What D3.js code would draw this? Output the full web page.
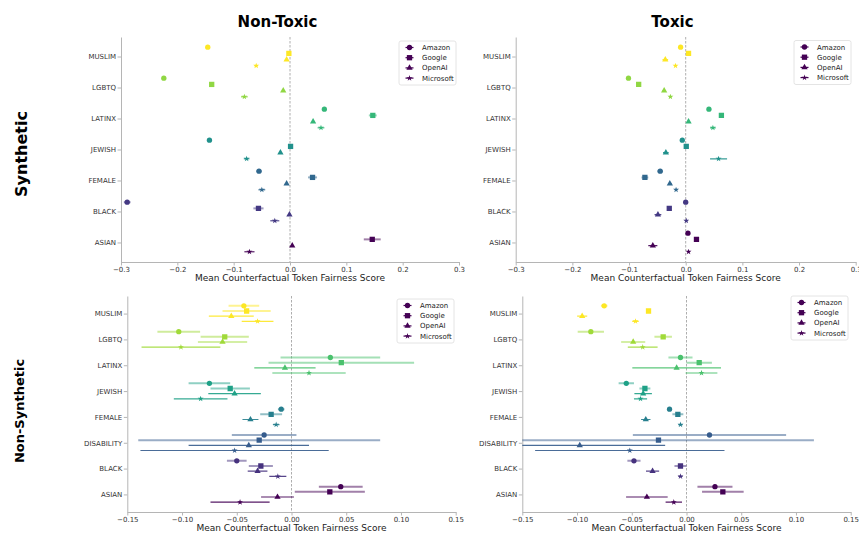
<!DOCTYPE html>
<html>
<head>
<meta charset="utf-8">
<script src="https://cdn.jsdelivr.net/npm/d3@7"></script>
<style>
body { margin: 0; background: #fff; }
svg { font-family: "DejaVu Sans", sans-serif; }
</style>
</head>
<body>
<div id="chart"></div>
<script>
// groups, listed bottom to top
var groups_syn = ["ASIAN", "BLACK", "FEMALE", "JEWISH", "LATINX", "LGBTQ", "MUSLIM"];
var groups_real = ["ASIAN", "BLACK", "DISABILITY", "FEMALE", "JEWISH", "LATINX", "LGBTQ", "MUSLIM"];
var models = ["Amazon", "Google", "OpenAI", "Microsoft"];
var ticks_syn = [-0.3, -0.2, -0.1, 0, 0.1, 0.2, 0.3];
var ticks_real = [-0.15, -0.1, -0.05, 0, 0.05, 0.1, 0.15];

// mean scores, one row per model (Amazon, Google, OpenAI, Microsoft)
var syn_nontoxic_mean = [
  [null, -0.289, -0.055, -0.143, 0.061, -0.224, -0.146],
  [0.146, -0.056, 0.040, 0.001, 0.147, -0.139, -0.002],
  [0.004, -0.001, -0.006, -0.017, 0.041, -0.012, -0.006],
  [-0.072, -0.027, -0.050, -0.077, 0.055, -0.081, -0.060],
];
var syn_nontoxic_err = [
  [0, 0.006, 0.005, 0.002, 0.002, 0.002, 0.002],
  [0.015, 0.009, 0.008, 0.003, 0.007, 0.003, 0.003],
  [0.002, 0.002, 0.002, 0.002, 0.002, 0.002, 0.002],
  [0.009, 0.008, 0.006, 0.005, 0.006, 0.006, 0.003],
];

var syn_toxic_mean = [
  [0.004, 0.000, -0.045, -0.006, 0.041, -0.101, -0.009],
  [0.019, -0.029, -0.072, 0.001, 0.063, -0.083, 0.005],
  [-0.058, -0.049, -0.028, -0.035, 0.005, -0.038, -0.036],
  [0.005, 0.001, -0.017, 0.058, 0.048, -0.027, -0.018],
];
var syn_toxic_err = [
  [0.002, 0.002, 0.005, 0.002, 0.002, 0.002, 0.002],
  [0.003, 0.003, 0.006, 0.003, 0.003, 0.003, 0.003],
  [0.008, 0.006, 0.003, 0.005, 0.002, 0.003, 0.005],
  [0.002, 0.002, 0.002, 0.015, 0.005, 0.002, 0.002],
];

var real_nontoxic_mean = [
  [0.045, -0.050, -0.025, -0.0094, -0.075, 0.0355, -0.103, -0.0435],
  [0.035, -0.028, -0.0295, -0.0186, -0.056, 0.0455, -0.061, -0.041],
  [-0.0128, -0.031, -0.039, -0.0375, -0.052, -0.006, -0.063, -0.055],
  [-0.047, -0.0125, -0.052, -0.014, -0.083, 0.016, -0.101, -0.031],
];
var real_nontoxic_err = [
  [0.020, 0.009, 0.0295, 0.003, 0.019, 0.0455, 0.0195, 0.014],
  [0.032, 0.011, 0.1105, 0.010, 0.018, 0.0665, 0.022, 0.022],
  [0.015, 0.009, 0.055, 0.0073, 0.024, 0.028, 0.0225, 0.0205],
  [0.027, 0.0078, 0.086, 0.003, 0.0245, 0.0335, 0.036, 0.0145],
];

var real_toxic_mean = [
  [0.026, -0.048, 0.021, -0.0155, -0.055, -0.0055, -0.0874, -0.0752],
  [0.0332, -0.0055, -0.0256, -0.0079, -0.038, 0.0116, -0.0213, -0.0347],
  [-0.0362, -0.031, -0.0975, -0.0372, -0.0396, -0.009, -0.0487, -0.0953],
  [-0.0116, -0.0055, -0.0518, -0.0055, -0.042, 0.0137, -0.040, -0.0466],
];
var real_toxic_err = [
  [0.016, 0.006, 0.070, 0.002, 0.007, 0.011, 0.012, 0.003],
  [0.019, 0.0055, 0.142, 0.005, 0.005, 0.0116, 0.008, 0.002],
  [0.019, 0.006, 0.078, 0.0043, 0.008, 0.0405, 0.011, 0.0046],
  [0.0075, 0.002, 0.0865, 0.002, 0.006, 0.0145, 0.0136, 0.003],
];

// per model look
var offsets = [0.3, 0.1, -0.1, -0.3];
var symbols = [d3.symbolCircle, d3.symbolSquare, d3.symbolTriangle, d3.symbolStar];
var sym_size = [22, 28, 17, 11];
var bar_alpha = [0.5, 0.5, 0.9, 0.9];
var bar_width = [2, 2, 1.2, 1.2];

var width = 859, height = 534;

var svg = d3
  .select("#chart")
  .append("svg")
  .attr("width", width)
  .attr("height", height);

var panels = [
  { id: "a", mean: syn_nontoxic_mean, err: syn_nontoxic_err, groups: groups_syn, ticks: ticks_syn, fmt: ".1f",
    x0: 121, x1: 459, y0: 37, y1: 262, lx: 399, ly: 41 },
  { id: "b", mean: syn_toxic_mean, err: syn_toxic_err, groups: groups_syn, ticks: ticks_syn, fmt: ".1f",
    x0: 515.7, x1: 855.7, y0: 37, y1: 262, lx: 794, ly: 40.5 },
  { id: "c", mean: real_nontoxic_mean, err: real_nontoxic_err, groups: groups_real, ticks: ticks_real, fmt: ".2f",
    x0: 127.3, x1: 455.7, y0: 296, y1: 512, lx: 397, ly: 299 },
  { id: "d", mean: real_toxic_mean, err: real_toxic_err, groups: groups_real, ticks: ticks_real, fmt: ".2f",
    x0: 522.3, x1: 850.7, y0: 296, y1: 512, lx: 791, ly: 296 },
];

panels.forEach(drawPanel);

// column titles
svg.append("text").attr("x", 277.5).attr("y", 27.3).attr("text-anchor", "middle")
  .style("font-size", "15px").style("font-weight", "bold").text("Non-Toxic");
svg.append("text").attr("x", 672.5).attr("y", 27.3).attr("text-anchor", "middle")
  .style("font-size", "15px").style("font-weight", "bold").text("Toxic");

// row titles
svg.append("text").attr("transform", "translate(27.3,154) rotate(-90)").attr("text-anchor", "middle")
  .style("font-size", "16px").style("font-weight", "bold").text("Synthetic");
svg.append("text").attr("transform", "translate(23.8,411) rotate(-90)").attr("text-anchor", "middle")
  .style("font-size", "13px").style("font-weight", "bold").text("Non-Synthetic");

function drawPanel(p) {
  var n = p.groups.length;
  var pad = 0.05 * (n - 0.4);
  var x = d3.scaleLinear()
    .domain([p.ticks[0], p.ticks[p.ticks.length - 1]])
    .range([p.x0, p.x1]);
  var y = d3.scaleLinear()
    .domain([-0.3 - pad, n - 1 + 0.3 + pad])
    .range([p.y1, p.y0]);
  var color = function (i) {
    return d3.interpolateViridis(i / (n - 1));
  };

  var g = svg.append("g");

  g.append("clipPath").attr("id", "clip" + p.id)
    .append("rect")
    .attr("x", p.x0).attr("y", p.y0)
    .attr("width", p.x1 - p.x0).attr("height", p.y1 - p.y0);

  // zero line
  g.append("line")
    .attr("x1", x(0)).attr("x2", x(0))
    .attr("y1", p.y0).attr("y2", p.y1)
    .attr("stroke", "#999").attr("stroke-width", 0.8)
    .attr("stroke-dasharray", "2.5,1.5");

  // axes
  var xAxis = g.append("g")
    .attr("transform", "translate(0," + p.y1 + ")")
    .call(d3.axisBottom(x).tickValues(p.ticks).tickFormat(d3.format(p.fmt))
      .tickSize(3.5).tickSizeOuter(0).tickPadding(1.5));
  var yAxis = g.append("g")
    .attr("transform", "translate(" + p.x0 + ",0)")
    .call(d3.axisLeft(y).tickValues(d3.range(n)).tickFormat(function (i) { return p.groups[i]; })
      .tickSize(3.5).tickSizeOuter(0).tickPadding(1.5));
  [xAxis, yAxis].forEach(function (a) {
    a.select(".domain").attr("stroke", "#b5b5b5");
    a.selectAll(".tick line").attr("stroke", "#b5b5b5");
    a.selectAll(".tick text").attr("fill", "#333").style("font-size", "7px")
      .style("font-family", "DejaVu Sans");
  });

  g.append("text")
    .attr("x", (p.x0 + p.x1) / 2).attr("y", p.y1 + 18.5)
    .attr("text-anchor", "middle").attr("fill", "#222")
    .style("font-size", "9px")
    .text("Mean Counterfactual Token Fairness Score");

  // error bars and markers
  var plot = g.append("g").attr("clip-path", "url(#clip" + p.id + ")");
  for (var m = 0; m < models.length; m++) {
    for (var i = 0; i < n; i++) {
      var v = p.mean[m][i];
      if (v == null) continue;
      var e = p.err[m][i];
      var yy = y(i + offsets[m]);
      plot.append("line")
        .attr("x1", x(v - e)).attr("x2", x(v + e))
        .attr("y1", yy).attr("y2", yy)
        .attr("stroke", color(i))
        .attr("stroke-opacity", bar_alpha[m])
        .attr("stroke-width", bar_width[m]);
      plot.append("path")
        .attr("d", d3.symbol().type(symbols[m]).size(sym_size[m])())
        .attr("transform", "translate(" + x(v) + "," + yy + ")")
        .attr("fill", color(i));
    }
  }

  // legend
  var leg = g.append("g").attr("transform", "translate(" + p.lx + "," + p.ly + ")");
  leg.append("rect")
    .attr("width", 57).attr("height", 44).attr("rx", 2)
    .attr("fill", "#fff").attr("stroke", "#ddd").attr("stroke-width", 0.8);
  models.forEach(function (name, k) {
    var ey = 6.5 + k * 10.2;
    leg.append("line")
      .attr("x1", 6.5).attr("x2", 14.5).attr("y1", ey).attr("y2", ey)
      .attr("stroke", "#440154").attr("stroke-width", 1.2);
    leg.append("path")
      .attr("d", d3.symbol().type(symbols[k]).size(sym_size[k])())
      .attr("transform", "translate(10.5," + ey + ")")
      .attr("fill", "#440154");
    leg.append("text")
      .attr("x", 23).attr("y", ey + 2.5)
      .attr("fill", "#222").style("font-size", "7px")
      .text(name);
  });
}
</script>
</body>
</html>
